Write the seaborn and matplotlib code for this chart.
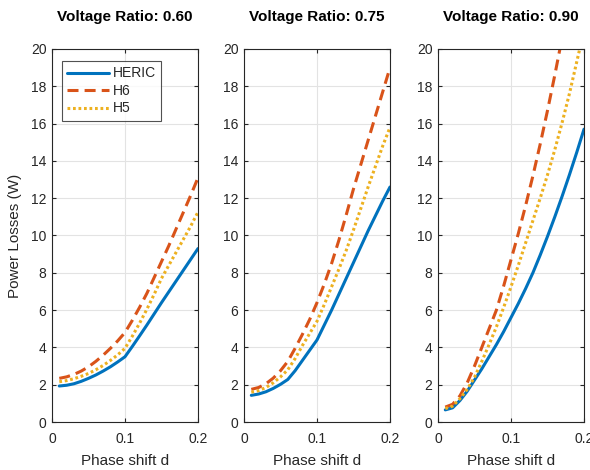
import numpy as np
import pandas as pd
import matplotlib
matplotlib.use("Agg")
import matplotlib.pyplot as plt
import seaborn as sns

# ---- data ----
phase_shift = [0.01, 0.02, 0.03, 0.04, 0.05, 0.06, 0.07, 0.08, 0.09, 0.10,
               0.11, 0.12, 0.13, 0.14, 0.15, 0.16, 0.17, 0.18, 0.19, 0.20]
ratios = ["0.60", "0.75", "0.90"]
series_names = ["HERIC", "H6", "H5"]

heric_060 = [1.93, 1.97, 2.05, 2.18, 2.34, 2.52, 2.73, 2.96, 3.22, 3.50,
             4.05, 4.62, 5.20, 5.80, 6.40, 6.98, 7.56, 8.14, 8.72, 9.30]
h6_060 = [2.34, 2.42, 2.55, 2.73, 2.96, 3.25, 3.58, 3.95, 4.35, 4.80,
          5.45, 6.15, 6.90, 7.75, 8.60, 9.45, 10.35, 11.25, 12.15, 13.10]
h5_060 = [2.16, 2.22, 2.32, 2.45, 2.60, 2.80, 3.03, 3.30, 3.60, 3.95,
          4.60, 5.30, 6.05, 6.85, 7.70, 8.40, 9.10, 9.80, 10.50, 11.26]

heric_075 = [1.43, 1.50, 1.62, 1.80, 2.02, 2.28, 2.75, 3.30, 3.85, 4.40,
             5.20, 6.00, 6.85, 7.70, 8.55, 9.40, 10.25, 11.05, 11.85, 12.60]
h6_075 = [1.75, 1.85, 2.05, 2.35, 2.75, 3.25, 3.95, 4.70, 5.50, 6.40,
          7.40, 8.50, 9.75, 11.10, 12.50, 13.80, 15.10, 16.40, 17.70, 19.00]
h5_075 = [1.60, 1.68, 1.85, 2.10, 2.42, 2.80, 3.40, 4.10, 4.75, 5.40,
          6.30, 7.25, 8.20, 9.20, 10.30, 11.45, 12.60, 13.70, 14.80, 15.80]

heric_090 = [0.65, 0.76, 1.15, 1.65, 2.25, 2.85, 3.50, 4.15, 4.85, 5.60,
             6.35, 7.15, 8.00, 8.95, 9.95, 11.00, 12.10, 13.25, 14.45, 15.70]
h6_090 = [0.80, 0.95, 1.40, 2.10, 3.00, 4.00, 5.00, 6.00, 7.30, 8.70,
          10.10, 11.60, 13.20, 14.90, 16.70, 18.60, 20.60, 22.60, 24.70, 26.80]
h5_090 = [0.72, 0.85, 1.25, 1.75, 2.40, 3.25, 4.15, 5.10, 6.15, 7.25,
          8.40, 9.60, 10.80, 12.00, 13.25, 14.60, 16.05, 17.60, 19.30, 21.00]

data = {
    "0.60": [heric_060, h6_060, h5_060],
    "0.75": [heric_075, h6_075, h5_075],
    "0.90": [heric_090, h6_090, h5_090],
}

x_ticks = [0, 0.1, 0.2]
x_tick_labels = ["0", "0.1", "0.2"]
y_ticks = list(range(0, 21, 2))

# ---- style ----
sns.set_theme(style="white")
plt.rcParams["font.family"] = ["Liberation Sans", "DejaVu Sans"]

colors = ["#0072BD", "#D95319", "#EDB120"]
linestyles = ["-", (0, (3.6, 2.0)), (0, (0.9, 0.9))]

fig = plt.figure(figsize=(5.9, 4.7), dpi=100)
lefts = [52 / 590, 244 / 590, 438 / 590]
width = 146 / 590
bottom = 1 - 422 / 470
height = (422 - 49) / 470

for i, r in enumerate(ratios):
    ax = fig.add_axes([lefts[i], bottom, width, height])
    for j, name in enumerate(series_names):
        df = pd.DataFrame({"x": phase_shift, "y": data[r][j]})
        sns.lineplot(x="x", y="y", data=df, ax=ax, color=colors[j],
                     linewidth=2.2, label=name, linestyle=linestyles[j])
    ax.set_xlim(0, 0.2)
    ax.set_ylim(0, 20)
    ax.set_xticks(x_ticks)
    ax.set_xticklabels(x_tick_labels)
    ax.set_yticks(y_ticks)
    ax.grid(True, color="#e3e3e3", linewidth=0.8)
    ax.set_axisbelow(True)
    ax.tick_params(axis="both", direction="in", length=3, width=0.8,
                   colors="#262626", labelsize=10, top=True, right=True,
                   left=True, bottom=True)
    ax.tick_params(axis="x", pad=7)
    ax.tick_params(axis="y", pad=4)
    for sp in ax.spines.values():
        sp.set_color("#262626")
        sp.set_linewidth(0.8)
    ax.set_title(f"Voltage Ratio: {r}", fontsize=11, fontweight="bold",
                 pad=20.5, color="#000000")
    ax.set_xlabel("Phase shift d", fontsize=11, color="#262626", labelpad=6)
    if i == 0:
        ax.set_ylabel("Power Losses (W)", fontsize=11, color="#262626",
                      labelpad=6)
        leg = ax.legend(loc="upper left", bbox_to_anchor=(0.068, 0.968),
                        frameon=True, fancybox=False, fontsize=10,
                        handlelength=3.0, borderpad=0.4, labelspacing=0.25,
                        handletextpad=0.25, borderaxespad=0.0)
        leg.get_frame().set_edgecolor("#262626")
        leg.get_frame().set_linewidth(0.8)
    else:
        ax.set_ylabel("")
        if ax.get_legend() is not None:
            ax.get_legend().remove()

fig.savefig("out.png", dpi=100)
